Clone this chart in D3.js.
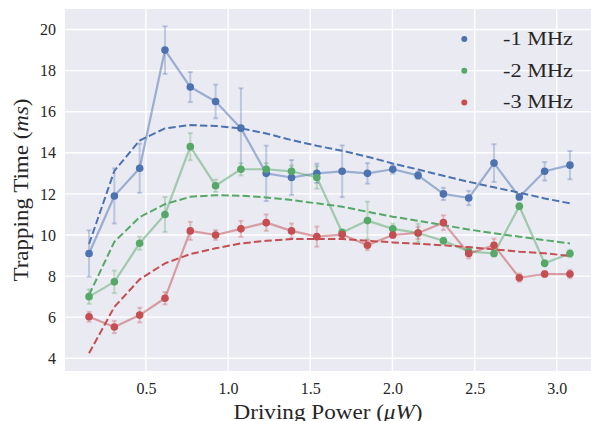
<!DOCTYPE html>
<html>
<head>
<meta charset="utf-8">
<script src="https://cdn.jsdelivr.net/npm/d3@7"></script>
<style>
  html, body { margin: 0; padding: 0; background: #ffffff; }
  svg { display: block; }
  text { font-family: "Liberation Serif", "DejaVu Serif", serif; fill: #262626; }
</style>
</head>
<body>
<svg id="chart" width="591" height="421"></svg>
<script>
// Driving power (µW) at which each trapping time was measured
const power = [0.154, 0.308, 0.462, 0.616, 0.770, 0.924, 1.078, 1.232, 1.386, 1.540,
               1.694, 1.848, 2.002, 2.156, 2.310, 2.464, 2.618, 2.772, 2.926, 3.080];

// Measured trapping times (ms) and their error bars, per detuning
const time1MHz = [9.1, 11.9, 13.25, 19.0, 17.2, 16.5, 15.2, 13.0, 12.8, 13.0,
                  13.1, 13.0, 13.2, 12.9, 12.0, 11.8, 13.5, 11.85, 13.1, 13.4];
const err1MHz  = [1.13, 1.34, 1.2, 1.16, 0.73, 0.82, 1.94, 1.35, 0.85, 0.47,
                  1.26, 0.5, 0.22, 0.18, 0.3, 0.35, 0.92, 0.15, 0.45, 0.69];

const time2MHz = [7.0, 7.72, 9.6, 11.0, 14.3, 12.4, 13.2, 13.2, 13.1, 12.8,
                  10.12, 10.7, 10.3, 10.1, 9.72, 9.2, 9.1, 11.4, 8.62, 9.1];
const err2MHz  = [0.35, 0.55, 0.32, 0.85, 0.66, 0.3, 0.3, 0.3, 0.28, 0.55,
                  0.15, 0.92, 0.25, 0.45, 0.15, 0.15, 0.15, 0.15, 0.15, 0.18];

const time3MHz = [6.02, 5.52, 6.1, 6.92, 10.2, 10.0, 10.3, 10.6, 10.2, 9.92,
                  10.02, 9.5, 10.0, 10.1, 10.6, 9.1, 9.5, 7.92, 8.1, 8.1];
const err3MHz  = [0.24, 0.3, 0.36, 0.3, 0.44, 0.24, 0.39, 0.4, 0.36, 0.49,
                  0.2, 0.24, 0.15, 0.3, 0.36, 0.24, 0.32, 0.2, 0.15, 0.2];

// Model curves (dashed) evaluated at the same powers
const fit1MHz = [9.56, 13.12, 14.6, 15.19, 15.35, 15.31, 15.19, 14.94, 14.62, 14.34,
                 14.1, 13.81, 13.48, 13.19, 12.88, 12.59, 12.32, 12.06, 11.78, 11.54];
const fit2MHz = [7.08, 9.67, 10.87, 11.5, 11.86, 11.94, 11.91, 11.83, 11.7, 11.54,
                 11.38, 11.13, 10.89, 10.69, 10.48, 10.27, 10.08, 9.92, 9.75, 9.59];
const fit3MHz = [4.24, 6.5, 7.84, 8.62, 9.07, 9.35, 9.59, 9.72, 9.8, 9.8,
                 9.8, 9.72, 9.64, 9.57, 9.5, 9.41, 9.3, 9.19, 9.11, 8.98];

const seriesNames = ["-1 MHz", "-2 MHz", "-3 MHz"];
const seriesColors = ["#4C72B0", "#55A868", "#C44E52"];

const xTicks = [0.5, 1.0, 1.5, 2.0, 2.5, 3.0];
const yTicks = [4, 6, 8, 10, 12, 14, 16, 18, 20];

const series = [
  { name: seriesNames[0], color: seriesColors[0], y: time1MHz, err: err1MHz, fit: fit1MHz },
  { name: seriesNames[1], color: seriesColors[1], y: time2MHz, err: err2MHz, fit: fit2MHz },
  { name: seriesNames[2], color: seriesColors[2], y: time3MHz, err: err3MHz, fit: fit3MHz }
];

const svg = d3.select("#chart");
const plot = { left: 65, top: 9, right: 594, bottom: 371 };

const x = d3.scaleLinear().domain([0.0077, 3.2263]).range([plot.left, plot.right]);
const y = d3.scaleLinear().domain([3.38, 21.0]).range([plot.bottom, plot.top]);

// Axes background
svg.append("rect")
  .attr("x", plot.left).attr("y", plot.top)
  .attr("width", plot.right - plot.left).attr("height", plot.bottom - plot.top)
  .attr("fill", "#EAEAF2");

// White grid lines
const grid = svg.append("g");
grid.selectAll(".gx").data(xTicks).join("line")
  .attr("x1", d => x(d)).attr("x2", d => x(d))
  .attr("y1", plot.top).attr("y2", plot.bottom)
  .attr("stroke", "#ffffff").attr("stroke-width", 1.4);
grid.selectAll(".gy").data(yTicks).join("line")
  .attr("x1", plot.left).attr("x2", plot.right)
  .attr("y1", d => y(d)).attr("y2", d => y(d))
  .attr("stroke", "#ffffff").attr("stroke-width", 1.4);

// Tick labels via d3 axes (no domain line or tick marks)
const xAxis = svg.append("g")
  .attr("transform", `translate(0,${plot.bottom})`)
  .call(d3.axisBottom(x).tickValues(xTicks).tickFormat(d3.format(".1f")).tickSize(0).tickPadding(12));
const yAxis = svg.append("g")
  .attr("transform", `translate(${plot.left},0)`)
  .call(d3.axisLeft(y).tickValues(yTicks).tickFormat(d3.format("d")).tickSize(0).tickPadding(9));
[xAxis, yAxis].forEach(a => {
  a.select(".domain").remove();
  a.selectAll("text")
    .attr("font-family", "Liberation Serif, serif")
    .attr("font-size", 16)
    .attr("fill", "#262626");
});

const clip = svg.append("clipPath").attr("id", "plotClip")
  .append("rect")
  .attr("x", plot.left).attr("y", plot.top)
  .attr("width", plot.right - plot.left).attr("height", plot.bottom - plot.top);

const marks = svg.append("g").attr("clip-path", "url(#plotClip)");

const line = d3.line().x((d, i) => x(power[i])).y(d => y(d));

// Error bars with caps
series.forEach(s => {
  const g = marks.append("g")
    .attr("stroke", s.color).attr("stroke-opacity", 0.3).attr("stroke-width", 2);
  g.selectAll(".bar").data(s.y).join("line")
    .attr("x1", (d, i) => x(power[i])).attr("x2", (d, i) => x(power[i]))
    .attr("y1", (d, i) => y(d - s.err[i])).attr("y2", (d, i) => y(d + s.err[i]));
  g.selectAll(".capT").data(s.y).join("line")
    .attr("x1", (d, i) => x(power[i]) - 2.5).attr("x2", (d, i) => x(power[i]) + 2.5)
    .attr("y1", (d, i) => y(d + s.err[i])).attr("y2", (d, i) => y(d + s.err[i]));
  g.selectAll(".capB").data(s.y).join("line")
    .attr("x1", (d, i) => x(power[i]) - 2.5).attr("x2", (d, i) => x(power[i]) + 2.5)
    .attr("y1", (d, i) => y(d - s.err[i])).attr("y2", (d, i) => y(d - s.err[i]));
});

// Connecting lines through the measurements
series.forEach(s => {
  marks.append("path").datum(s.y)
    .attr("d", line)
    .attr("fill", "none")
    .attr("stroke", s.color).attr("stroke-opacity", 0.5)
    .attr("stroke-width", 2.2)
    .attr("stroke-linejoin", "round");
});

// Dashed model curves
series.forEach(s => {
  marks.append("path").datum(s.fit)
    .attr("d", line)
    .attr("fill", "none")
    .attr("stroke", s.color)
    .attr("stroke-width", 2)
    .attr("stroke-dasharray", "7.4,3.2");
});

// Measurement markers
series.forEach(s => {
  marks.append("g").selectAll("circle").data(s.y).join("circle")
    .attr("cx", (d, i) => x(power[i])).attr("cy", d => y(d))
    .attr("r", 3.8)
    .attr("fill", s.color);
});

// Legend
const legend = svg.append("g");
series.forEach((s, i) => {
  const ly = 39 + i * 31.7;
  legend.append("circle").attr("cx", 464.3).attr("cy", ly).attr("r", 3).attr("fill", s.color);
  legend.append("text")
    .attr("x", 503).attr("y", ly + 6)
    .attr("font-size", 19)
    .attr("textLength", 70).attr("lengthAdjust", "spacingAndGlyphs")
    .text(s.name);
});

// Axis titles
const xTitle = svg.append("text")
  .attr("x", 328).attr("y", 419)
  .attr("text-anchor", "middle")
  .attr("font-size", 20)
  .attr("textLength", 189).attr("lengthAdjust", "spacingAndGlyphs");
xTitle.append("tspan").text("Driving Power (");
xTitle.append("tspan").attr("font-style", "italic").text("\u03BCW");
xTitle.append("tspan").text(")");

const yTitle = svg.append("text")
  .attr("transform", `translate(28,${(plot.top + plot.bottom) / 2}) rotate(-90)`)
  .attr("text-anchor", "middle")
  .attr("font-size", 20)
  .attr("textLength", 183).attr("lengthAdjust", "spacingAndGlyphs");
yTitle.append("tspan").text("Trapping Time (");
yTitle.append("tspan").attr("font-style", "italic").text("ms");
yTitle.append("tspan").text(")");
</script>
</body>
</html>
